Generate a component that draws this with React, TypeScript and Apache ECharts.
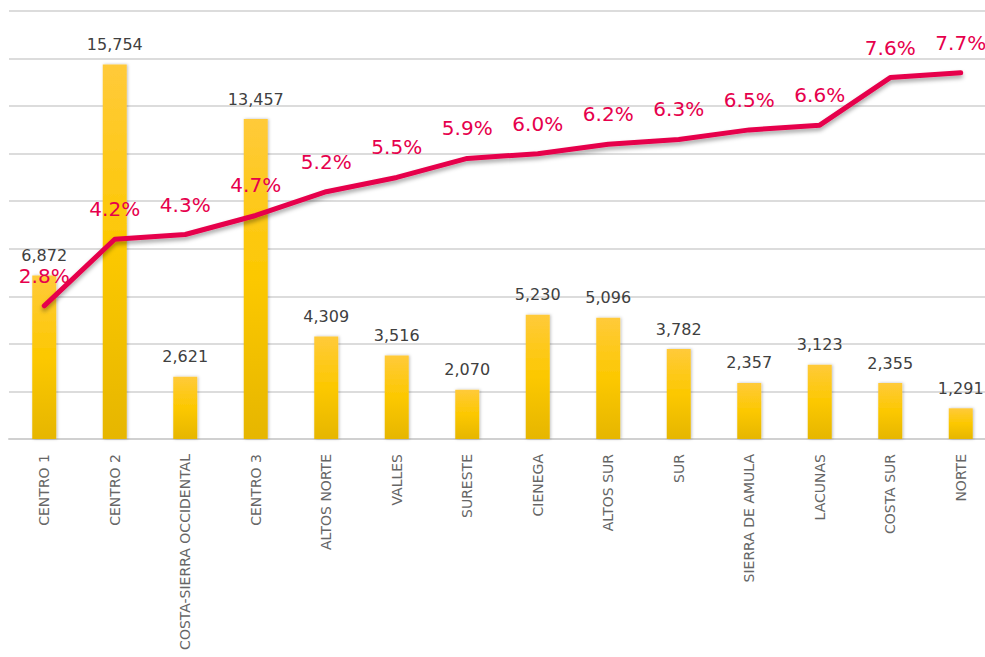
import React, { useEffect, useRef } from "react";
import * as echarts from "echarts";

const categories = [
  "CENTRO 1", "CENTRO 2", "COSTA-SIERRA OCCIDENTAL", "CENTRO 3", "ALTOS NORTE", "VALLES",
  "SURESTE", "CIENEGA", "ALTOS SUR", "SUR", "SIERRA DE AMULA", "LACUNAS", "COSTA SUR", "NORTE",
];
const counts = [6872, 15754, 2621, 13457, 4309, 3516, 2070, 5230, 5096, 3782, 2357, 3123, 2355, 1291];
const percents = [2.8, 4.2, 4.3, 4.7, 5.2, 5.5, 5.9, 6.0, 6.2, 6.3, 6.5, 6.6, 7.6, 7.7];

const FONT = "'DejaVu Sans', 'Noto Sans', sans-serif";

export default function App() {
  const ref = useRef<HTMLDivElement>(null);
  useEffect(() => {
    if (!ref.current) return;
    const chart = echarts.init(ref.current, null, { renderer: "svg" });
    chart.setOption({
      animation: false,
      backgroundColor: "#ffffff",
      grid: { left: 9, right: 0, top: 11, bottom: 218, containLabel: false },
      xAxis: {
        type: "category",
        data: categories,
        axisLine: { show: true, lineStyle: { color: "#d0d0d0", width: 2 } },
        axisTick: { show: false },
        axisLabel: {
          rotate: 90,
          interval: 0,
          color: "#666666",
          fontFamily: FONT,
          fontSize: 14,
          margin: 15,
        },
      },
      yAxis: [
        {
          type: "value",
          min: 0,
          max: 18000,
          interval: 2000,
          axisLabel: { show: false },
          axisLine: { show: false },
          axisTick: { show: false },
          splitLine: { show: true, lineStyle: { color: "#dcdcdc", width: 2 } },
        },
        {
          type: "value",
          min: 0,
          max: 9,
          interval: 1,
          axisLabel: { show: false },
          axisLine: { show: false },
          axisTick: { show: false },
          splitLine: { show: false },
        },
      ],
      series: [
        {
          type: "bar",
          data: counts,
          barWidth: 24,
          itemStyle: {
            color: new echarts.graphic.LinearGradient(0, 0, 0, 1, [
              { offset: 0, color: "#ffca3a" },
              { offset: 0.5, color: "#fcc800" },
              { offset: 1, color: "#e6b600" },
            ]),
            shadowColor: "rgba(0,0,0,0.25)",
            shadowBlur: 3,
            shadowOffsetX: 1,
          },
          label: {
            show: true,
            position: "top",
            distance: 12,
            color: "#404040",
            fontFamily: FONT,
            fontSize: 16,
            formatter: (p: any) => Number(p.value).toLocaleString("en-US"),
          },
          z: 2,
        },
        {
          type: "line",
          yAxisIndex: 1,
          data: percents,
          symbol: "circle",
          symbolSize: 2,
          showSymbol: true,
          itemStyle: { color: "rgba(230,0,76,0)" },
          lineStyle: {
            color: "#e6004c",
            width: 5,
            cap: "round",
            join: "round",
            shadowColor: "rgba(0,0,0,0.35)",
            shadowBlur: 4,
            shadowOffsetY: 3,
          },
          label: {
            show: true,
            position: "top",
            distance: 19,
            color: "#e6004c",
            fontFamily: FONT,
            fontSize: 20,
            formatter: (p: any) => Number(p.value).toFixed(1) + "%",
          },
          z: 3,
        },
      ],
    });
    return () => chart.dispose();
  }, []);
  return <div ref={ref} style={{ width: 996, height: 657, position: "fixed", left: 0, top: 0 }} />;
}
